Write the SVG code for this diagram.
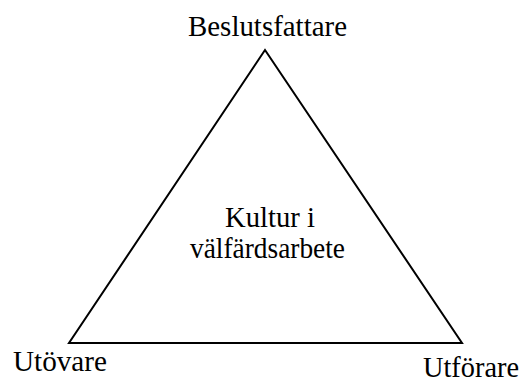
<svg xmlns="http://www.w3.org/2000/svg" width="523" height="383" viewBox="0 0 523 383">
<style>
text{font-family:"Liberation Serif","Times New Roman",serif;font-size:29px;fill:#000}
.edge{fill:none;stroke:#000;stroke-width:2}
</style>
<rect width="523" height="383" fill="#fff"/>
<g id="connectors">
<polygon class="edge" points="265,50 69,343 462,343"/>
</g>
<g id="beslutsfattare"><text x="188" y="36" textLength="159" lengthAdjust="spacingAndGlyphs">Beslutsfattare</text></g>
<g id="utovare"><text x="13" y="371" textLength="94" lengthAdjust="spacingAndGlyphs">Utövare</text></g>
<g id="utforare"><text x="423" y="377" textLength="96" lengthAdjust="spacingAndGlyphs">Utförare</text></g>
<g id="center"><text x="225" y="227" textLength="90" lengthAdjust="spacingAndGlyphs">Kultur i</text><text x="190" y="258" textLength="155" lengthAdjust="spacingAndGlyphs">välfärdsarbete</text></g>
</svg>
